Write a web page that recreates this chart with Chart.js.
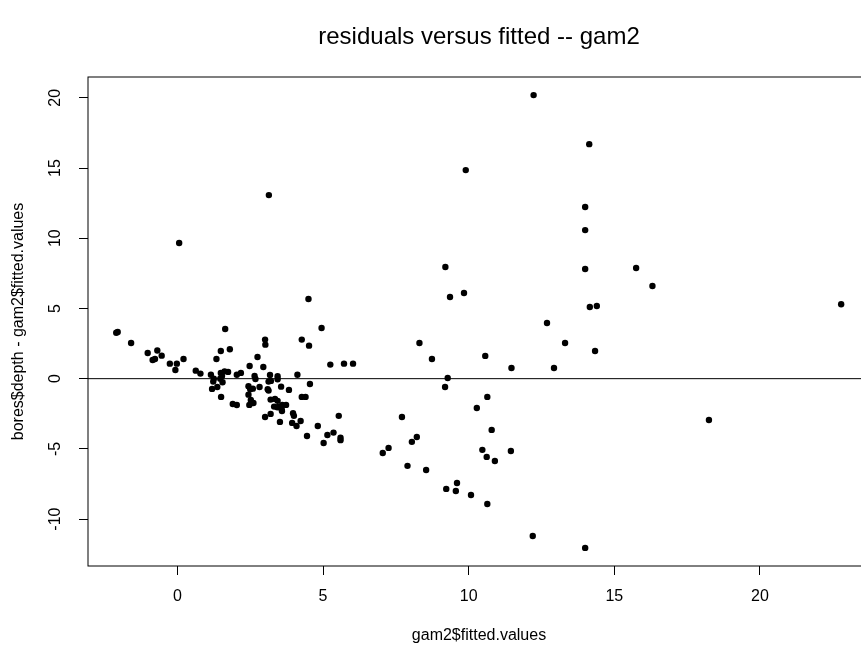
<!DOCTYPE html>
<html>
<head>
<meta charset="utf-8">
<script src="https://cdn.jsdelivr.net/npm/chart.js@4"></script>
<style>
  html, body { margin: 0; padding: 0; overflow: hidden; background: #fff; }
</style>
</head>
<body>
<canvas id="chart" width="880" height="650"></canvas>
<script>
// gam2$fitted.values (x) and bores$depth - gam2$fitted.values (y)
const fittedValues = [
  -2.10, -2.05, -1.59, -1.02, -0.69, -0.54, -0.85, -0.77, -0.26, -0.02,
  -0.07, 0.21, 0.63, 0.79, 1.64, 1.49, 1.80, 1.34, 1.15, 1.25,
  1.23, 1.49, 1.62, 1.53, 1.55, 1.47, 1.74, 1.19, 1.37, 1.50,
  1.90, 2.04, 2.04, 2.18, 2.48, 2.75, 3.01, 3.02, 2.95, 2.65,
  2.68, 2.44, 2.50, 2.59, 2.44, 2.52, 2.61, 2.47, 2.82, 3.18,
  3.13, 3.21, 3.44, 3.44, 3.13, 3.10, 3.56, 3.83, 4.12, 4.27,
  4.52, 4.95, 4.50, 4.55, 4.27, 4.40, 3.20, 3.35, 3.44, 3.32,
  3.50, 3.60, 3.73, 3.58, 3.59, 3.43, 3.01, 3.20, 3.52, 3.97,
  4.00, 3.94, 4.09, 4.23, 4.45, 4.82, 5.15, 5.02, 5.36, 5.54,
  5.60, 5.60, 5.25, 5.72, 6.03, 7.05, 7.25, 3.14, 0.06, 12.23,
  14.14, 9.90, 14.00, 14.00, 9.20, 14.00, 9.36, 9.84, 14.16, 14.40,
  12.69, 8.31, 13.31, 8.74, 10.57, 14.34, 11.47, 12.93, 9.28, 9.19,
  10.64, 10.28, 7.71, 10.79, 8.22, 8.05, 10.47, 10.62, 10.90, 11.45,
  7.90, 8.54, 9.23, 9.56, 9.60, 10.08, 10.64, 12.20, 14.00, 15.75,
  16.31, 18.25, 22.79
];
const residuals = [
  3.27, 3.32, 2.54, 1.83, 2.00, 1.64, 1.33, 1.40, 1.07, 1.07,
  0.62, 1.40, 0.57, 0.36, 3.54, 1.97, 2.09, 1.40, 0.28, 0.00,
  -0.21, 0.41, 0.52, 0.19, -0.26, 0.00, 0.48, -0.73, -0.59, -1.30,
  -1.80, -1.88, 0.28, 0.41, 0.90, 1.54, 2.78, 2.42, 0.83, 0.19,
  -0.02, -0.54, -0.75, -0.71, -1.14, -1.52, -1.73, -1.87, -0.59, 0.26,
  -0.21, -0.16, 0.17, -0.04, -0.85, -0.75, -0.57, -0.80, 0.28, 2.78,
  2.35, 3.61, 5.67, -0.38, -1.30, -1.30, -1.49, -1.44, -1.58, -1.99,
  -1.99, -1.87, -1.87, -2.18, -2.30, -2.04, -2.73, -2.51, -3.08, -2.46,
  -2.65, -3.15, -3.37, -3.01, -4.08, -3.37, -4.01, -4.58, -3.84, -2.65,
  -4.20, -4.38, 1.00, 1.07, 1.07, -5.29, -4.93, 13.07, 9.66, 20.19,
  16.70, 14.85, 12.22, 10.58, 7.95, 7.81, 5.81, 6.10, 5.10, 5.17,
  3.96, 2.54, 2.54, 1.40, 1.62, 1.97, 0.76, 0.76, 0.05, -0.59,
  -1.30, -2.09, -2.73, -3.65, -4.15, -4.50, -5.07, -5.57, -5.86, -5.15,
  -6.21, -6.50, -7.85, -8.00, -7.43, -8.28, -8.92, -11.20, -12.05, 7.88,
  6.60, -2.94, 5.30
];

const xTicks = [0, 5, 10, 15, 20];
const yTicks = [-10, -5, 0, 5, 10, 15, 20];
const xRange = [-3.07, 23.78];
const yRange = [-13.34, 21.48];

const mainTitle = 'residuals versus fitted -- gam2';
const xLabel = 'gam2$fitted.values';
const yLabel = 'bores$depth - gam2$fitted.values';

const points = fittedValues.map((x, i) => ({ x: x, y: residuals[i] }));
const zeroLine = [{ x: xRange[0], y: 0 }, { x: xRange[1], y: 0 }];

const FONT = 'Arial, "Liberation Sans", sans-serif';

// box, rotated y tick labels and main title, R style
const rDecor = {
  id: 'rDecor',
  afterDraw(chart) {
    const { ctx, chartArea: a, scales } = chart;
    ctx.save();
    ctx.strokeStyle = '#000';
    ctx.lineWidth = 1;
    ctx.strokeRect(a.left, a.top, a.right - a.left, a.bottom - a.top);

    ctx.fillStyle = '#000';
    ctx.font = '16px ' + FONT;
    ctx.textAlign = 'center';
    ctx.textBaseline = 'middle';
    yTicks.forEach(v => {
      const py = scales.y.getPixelForValue(v);
      ctx.save();
      ctx.translate(a.left - 32, py);
      ctx.rotate(-Math.PI / 2);
      ctx.fillText(String(v), 0, 0);
      ctx.restore();
    });

    ctx.font = '24px ' + FONT;
    ctx.textBaseline = 'alphabetic';
    ctx.fillText(mainTitle, (a.left + a.right) / 2, 44);
    ctx.restore();
  }
};

new Chart(document.getElementById('chart'), {
  type: 'scatter',
  data: {
    datasets: [
      {
        data: zeroLine,
        showLine: true,
        borderColor: '#000',
        borderWidth: 1,
        pointRadius: 0
      },
      {
        data: points,
        backgroundColor: '#000',
        borderWidth: 0,
        pointRadius: 3.2
      }
    ]
  },
  options: {
    responsive: false,
    animation: false,
    layout: { padding: { top: 77, right: 10, bottom: 0, left: 0 } },
    plugins: {
      legend: { display: false },
      tooltip: { enabled: false }
    },
    scales: {
      x: {
        type: 'linear',
        position: 'bottom',
        min: xRange[0],
        max: xRange[1],
        afterBuildTicks: s => { s.ticks = xTicks.map(v => ({ value: v })); },
        afterFit: s => { s.height = 84; },
        border: { display: false },
        grid: { drawOnChartArea: false, drawTicks: true, tickLength: 9, color: '#000' },
        ticks: {
          color: '#000',
          font: { family: FONT, size: 16 },
          padding: 12,
          maxRotation: 0
        },
        title: {
          display: true,
          text: xLabel,
          color: '#000',
          font: { family: FONT, size: 16 },
          padding: { top: 0, bottom: 5 }
        }
      },
      y: {
        type: 'linear',
        position: 'left',
        min: yRange[0],
        max: yRange[1],
        afterBuildTicks: s => { s.ticks = yTicks.map(v => ({ value: v })); },
        afterFit: s => { s.width = 88; },
        border: { display: false },
        grid: { drawOnChartArea: false, drawTicks: true, tickLength: 9, color: '#000' },
        ticks: { display: false },
        title: {
          display: true,
          text: yLabel,
          color: '#000',
          font: { family: FONT, size: 16 },
          padding: { top: 9, bottom: 0 }
        }
      }
    }
  },
  plugins: [rDecor]
});
</script>
</body>
</html>
